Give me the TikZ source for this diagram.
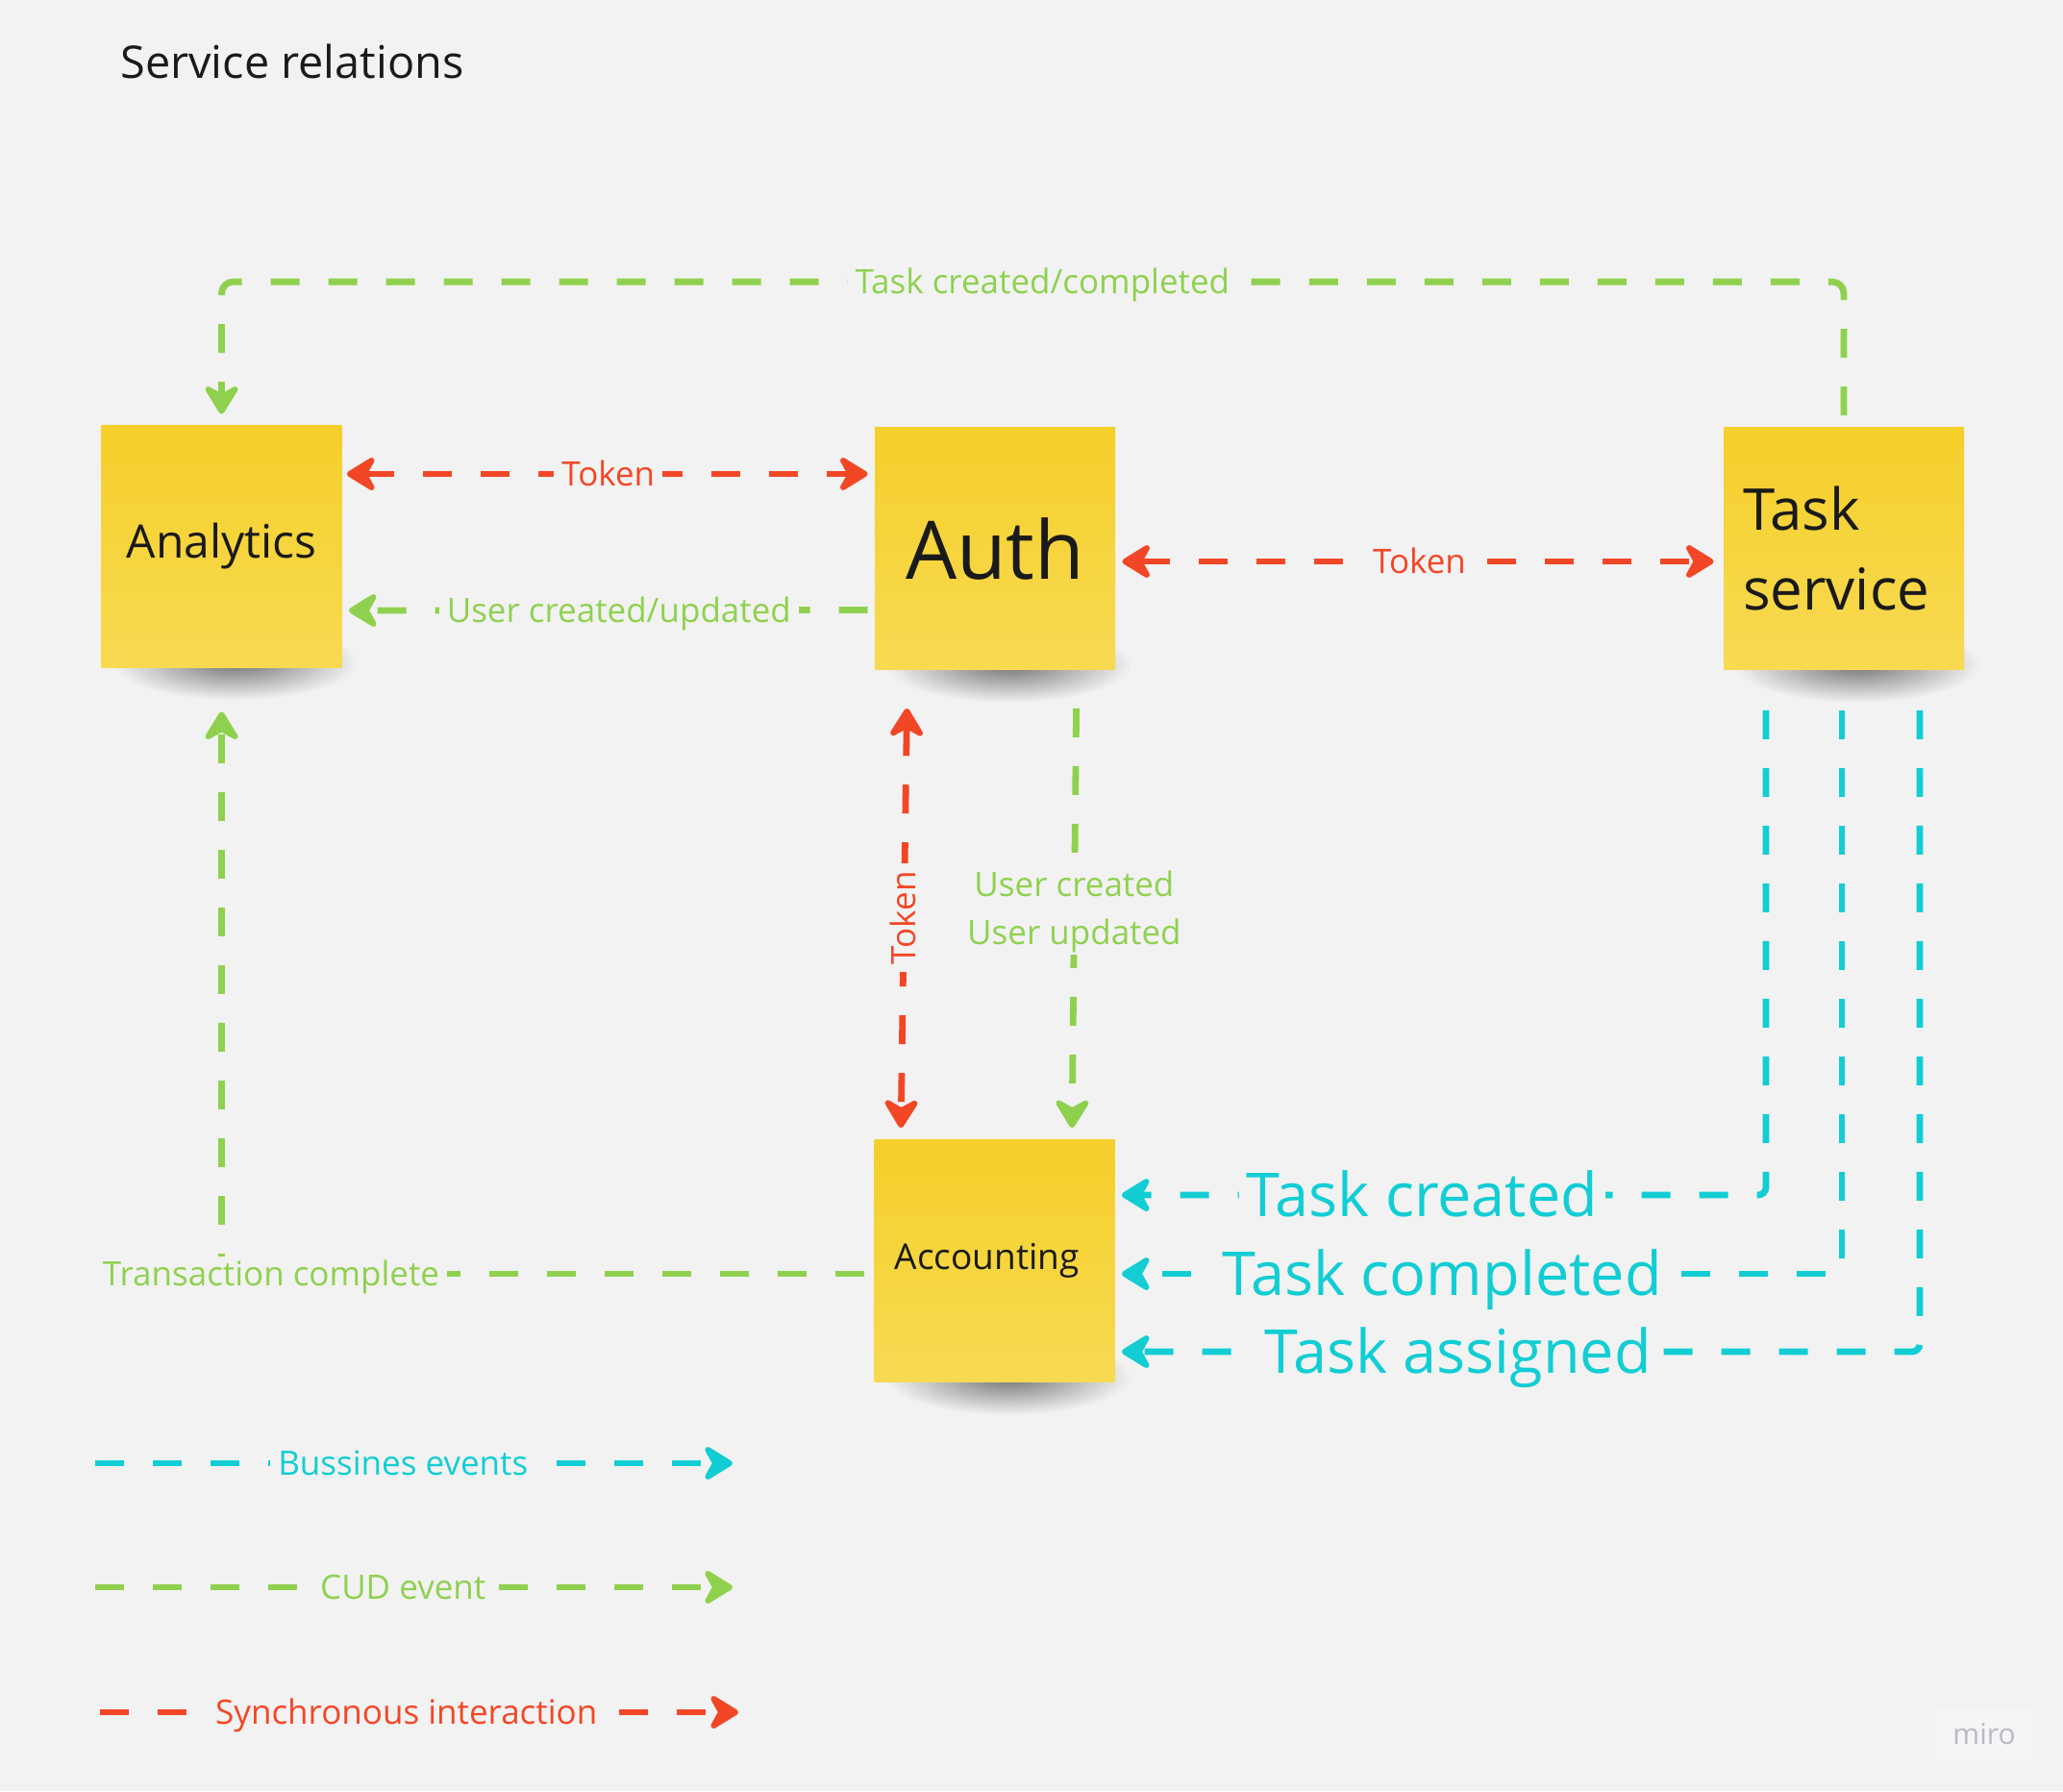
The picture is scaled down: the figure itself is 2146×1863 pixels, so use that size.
\documentclass[tikz,border=0pt]{standalone}
\usepackage{fontspec}
\setmainfont{Open Sans}
\usetikzlibrary{arrows.meta,positioning,calc,backgrounds}
\definecolor{BoardGrey}{HTML}{F2F2F2}
\definecolor{CudGreen}{HTML}{8FD14F}
\definecolor{SyncRed}{HTML}{F24726}
\definecolor{BizCyan}{HTML}{12CDD4}
\definecolor{NoteTop}{HTML}{F5CF2A}
\definecolor{NoteBottom}{HTML}{F7DA52}
\definecolor{InkBlack}{HTML}{1A1A1A}
\definecolor{MiroGrey}{HTML}{B9B9C9}
\definecolor{MiroBox}{HTML}{F5F5F5}

\begin{document}
\begin{tikzpicture}[x=0.5pt,y=-0.5pt,
  note/.style={top color=NoteTop,bottom color=NoteBottom,inner sep=0pt,
    minimum width=125pt,minimum height=126pt,text=InkBlack},
  flow/.style={line width=3.4pt,dash pattern=on 15pt off 15pt},
  arrowend/.style={-{Stealth[length=18pt,width=22pt,inset=6pt,round]}},
  arrowboth/.style={{Stealth[length=18pt,width=22pt,inset=6pt,round]}-{Stealth[length=18pt,width=22pt,inset=6pt,round]}},
  cud/.style={flow,CudGreen},
  sync/.style={flow,SyncRed},
  biz/.style={flow,BizCyan},
  tag/.style={fill=BoardGrey,font=\fontsize{17.5}{21}\selectfont,inner xsep=4pt,inner ysep=1pt},
  lbl/.style={tag,text height=14.5pt,text depth=2pt},
  biglbl/.style={tag,text=BizCyan,font=\fontsize{31.5}{38}\selectfont,text height=24pt,text depth=2pt}]
  \useasboundingbox (0,0) rectangle (2146,1863);

  \node[anchor=west,inner sep=0pt,text=InkBlack,font=\fontsize{23.4}{28}\selectfont] (title) at (125,64) {Service relations};

  % sticky notes
  \node[note,font=\fontsize{24}{30}\selectfont] (anl) at (230.5,568) {Analytics};
  \node[note,font=\fontsize{42}{50}\selectfont] (auth) at (1035,570.5) {Auth};
  \node[note,font=\fontsize{30}{41.5}\selectfont,text width=105pt,align=left,inner xsep=10pt] (task) at (1918,570.5) {Task\\service};
  \node[note,font=\fontsize{18.5}{22}\selectfont] (acc) at (1034.5,1311.5) {Accounting\hspace*{8pt}};

  % synchronous calls
  \draw[sync,arrowboth,shorten <=2.5pt,shorten >=3.5pt] ([yshift=37.5pt]anl.east) -- node[lbl,text=SyncRed]{Token} ([yshift=38.75pt]auth.west);
  \draw[sync,arrowboth,shorten <=3.5pt,shorten >=5pt] ([yshift=-6.75pt]auth.east) -- node[lbl,text=SyncRed]{Token} ([yshift=-6.75pt]task.west);
  \draw[sync,arrowboth,shorten <=20pt,shorten >=6pt] ([xshift=-45.5pt]auth.south) -- node[lbl,text=SyncRed,rotate=90,pos=0.528]{Token} ([xshift=-48.75pt]acc.north);

  % CUD events
  \draw[cud,arrowend,shorten <=3.5pt,shorten >=3.5pt] ([yshift=-32pt]auth.west) -- node[lbl,text=CudGreen,pos=0.48]{User created/updated} ([yshift=-33.5pt]anl.east);
  \draw[cud,arrowend,rounded corners=6pt,shorten <=6pt,shorten >=5.5pt] (task.north) -- ++(0,-151) -| node[lbl,text=CudGreen,pos=0.247]{Task created/completed} (anl.north);
  \draw[cud,arrowend,shorten <=20pt,shorten >=6pt] ([xshift=42.5pt]auth.south) -- node[tag,text=CudGreen,align=center,pos=0.515,font=\fontsize{17.5}{25}\selectfont]{User created\\User updated} ([xshift=40.25pt]acc.north);
  \draw[cud,arrowend,shorten <=5pt,shorten >=23pt] ([yshift=-6.75pt]acc.west) -| node[lbl,text=CudGreen,pos=0.462]{Transaction complete} (anl.south);

  % business events
  \draw[biz,arrowend,rounded corners=4pt,shorten <=21pt,shorten >=3.5pt] ([xshift=-40.5pt]task.south) |- node[biglbl,pos=0.764]{Task created} ([yshift=34.25pt]acc.east);
  \draw[biz,arrowend,rounded corners=4pt,shorten <=21pt,shorten >=3.5pt] ([xshift=-1pt]task.south) |- node[biglbl,pos=0.775]{Task completed} ([yshift=-6.75pt]acc.east);
  \draw[biz,arrowend,rounded corners=4pt,shorten <=21pt,shorten >=3.5pt] ([xshift=39.5pt]task.south) |- node[biglbl,pos=0.787]{Task assigned} ([yshift=-47.25pt]acc.east);

  % legend
  \coordinate (bizA) at (99,1522);
  \coordinate (bizB) at (762,1522);
  \coordinate (cudA) at (99,1651);
  \coordinate (cudB) at (762,1651);
  \coordinate (syncA) at (104,1781);
  \coordinate (syncB) at (768,1781);
  \draw[biz,arrowend] (bizA) -- node[lbl,text=BizCyan,pos=0.483]{Bussines events} (bizB);
  \draw[cud,arrowend] (cudA) -- node[lbl,text=CudGreen,pos=0.483]{CUD event} (cudB);
  \draw[sync,arrowend] (syncA) -- node[lbl,text=SyncRed,pos=0.48]{Synchronous interaction} (syncB);

  \node[fill=MiroBox,text=MiroGrey,font=\fontsize{15}{18}\selectfont,minimum width=51pt,minimum height=26.5pt] (miro) at (2064,1803.5) {miro};

  \begin{scope}[on background layer]
    \fill[BoardGrey] (0,0) rectangle (2146,1863);
    \foreach \n in {anl,auth,task,acc}
      \shade[inner color=black!55,outer color=BoardGrey] ([xshift=7pt,yshift=3pt]\n.south) ellipse (64pt and 20pt);
  \end{scope}
\end{tikzpicture}
\end{document}
